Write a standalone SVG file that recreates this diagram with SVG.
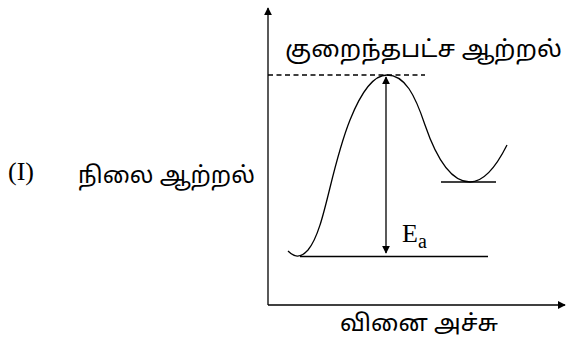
<svg xmlns="http://www.w3.org/2000/svg" width="567" height="342" viewBox="0 0 567 342">
<defs>
<marker id="ah" viewBox="0 0 10 10" refX="9" refY="5" markerWidth="8" markerHeight="8" markerUnits="userSpaceOnUse" orient="auto-start-reverse"><path d="M0,0 L10,5 L0,10 z" fill="#000"/></marker>
<style>
.ln{stroke:#000;stroke-width:1.3;fill:none}
.ta{font-family:"Noto Sans Tamil","Noto Sans","DejaVu Sans",sans-serif;fill:#000}
.se{font-family:"Liberation Serif","Times New Roman",serif;fill:#000}
</style>
</defs>
<rect width="567" height="342" fill="#fff"/>
<g id="axes">
<line class="ln" x1="268" y1="305" x2="268" y2="8" marker-end="url(#ah)"/>
<line class="ln" x1="268" y1="305" x2="565" y2="305" marker-end="url(#ah)"/>
</g>
<g id="curve">
<path class="ln" d="M288,251 C294,257 300,259 308,250 C325,230 330,170 350,120 C362,90 375,75 387,75 C405,75 415,95 425,125 C437,160 452,182 470,182 C485,182 497,165 507,145"/>
<line class="ln" x1="300" y1="256.5" x2="488" y2="256.5"/>
<line class="ln" x1="441" y1="182" x2="496" y2="182"/>
<line class="ln" x1="268" y1="75" x2="425" y2="75" stroke-dasharray="5,3.5"/>
</g>
<g id="connectors">
<line class="ln" x1="386" y1="253" x2="386" y2="77" marker-start="url(#ah)" marker-end="url(#ah)"/>
</g>
<g id="labels">
<text class="ta" x="285" y="57" style="font-size:23px" textLength="277" lengthAdjust="spacingAndGlyphs">குறைந்தபட்ச ஆற்றல்</text>
<text class="se" x="8" y="180" style="font-size:26px">(I)</text>
<text class="ta" x="78" y="183" style="font-size:23px" textLength="177" lengthAdjust="spacingAndGlyphs">நிலை ஆற்றல்</text>
<text class="se" x="402" y="242" style="font-size:26px">E<tspan dy="6" style="font-size:20px">a</tspan></text>
<text class="ta" x="340" y="331" style="font-size:23px" textLength="158" lengthAdjust="spacingAndGlyphs">வினை அச்சு</text>
</g>
</svg>
